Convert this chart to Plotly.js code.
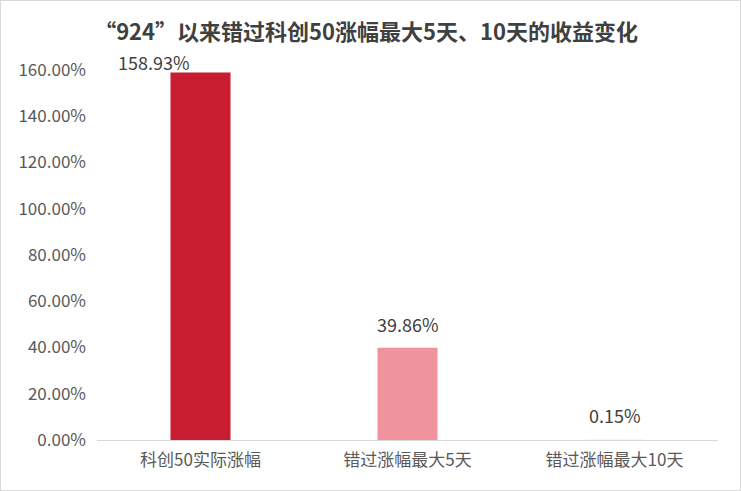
<!DOCTYPE html>
<html>
<head>
<meta charset="utf-8">
<script src="https://cdn.plot.ly/plotly-3.0.1.min.js"></script>
<style>
  body { margin: 0; background: #fff; }
  #chart { width: 739px; height: 489px; border: 1px solid #d9d9d9; }
</style>
</head>
<body>
<div id="chart"></div>
<script>
// returns since "924"
const categories = ["科创50实际涨幅", "错过涨幅最大5天", "错过涨幅最大10天"];
const returns = [1.5893, 0.3986, 0.0015];
const barColors = ["#C81D31", "#EF949D", "#F6D0D4"];
// label nudges [dx, dy] in px, the first one is pushed aside like in the source
const labelShift = [[-47, -5], [0, 9], [0, 10]];

const font = "'Noto Sans CJK SC', 'Noto Sans', sans-serif";

const data = [{
    x: categories,
    y: returns,
    type: "bar",
    marker: { color: barColors },
    hoverinfo: "skip",
}];

const annotations = categories.map((c, i) => ({
    x: c,
    y: returns[i],
    xref: "x",
    yref: "y",
    text: (returns[i] * 100).toFixed(2) + "%",
    showarrow: false,
    yanchor: "bottom",
    xshift: labelShift[i][0],
    yshift: labelShift[i][1],
    font: { family: font, size: 18, color: "#404040" },
}));

const layout = {
    width: 739,
    height: 489,
    margin: { l: 96, r: 22, t: 69, b: 50 },
    paper_bgcolor: "#fff",
    plot_bgcolor: "#fff",
    font: { family: font, color: "#595959" },
    title: {
        text: "<b>“924”以来错过科创50涨幅最大5天、10天的收益变化</b>",
        x: 0.494,
        xref: "container",
        y: 0.935,
        yref: "container",
        yanchor: "middle",
        font: { family: font, size: 22, color: "#404040" },
    },
    bargap: 0.71,
    showlegend: false,
    xaxis: {
        showgrid: false,
        showline: false,
        ticks: "",
        ticklabelstandoff: 8,
        tickfont: { family: font, size: 17, color: "#595959" },
        fixedrange: true,
    },
    yaxis: {
        range: [0, 1.6],
        dtick: 0.2,
        tickformat: ".2%",
        showgrid: false,
        zeroline: true,
        zerolinecolor: "#d9d9d9",
        zerolinewidth: 1,
        ticks: "",
        ticklabelstandoff: 10,
        tickfont: { family: font, size: 17, color: "#595959" },
    },
    annotations: annotations,
};

Plotly.newPlot("chart", data, layout, { displayModeBar: false, staticPlot: true });
</script>
</body>
</html>
